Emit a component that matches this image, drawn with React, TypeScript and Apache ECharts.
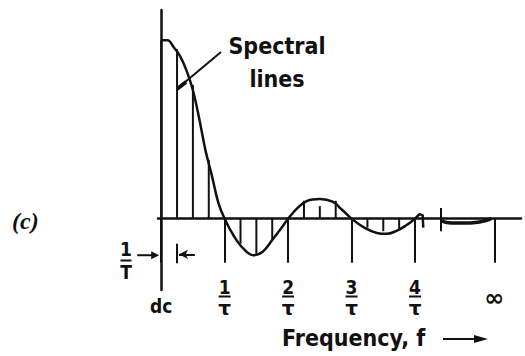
import React, { useEffect, useRef } from "react";
import * as echarts from "echarts";

// Continuous envelope (frequency in units of 1/τ, normalised amplitude)
const curveFreq = [0, 0.1, 0.2, 0.3, 0.4, 0.5, 0.6, 0.7, 0.8, 0.9, 1.0, 1.15, 1.3, 1.45, 1.6, 1.75, 1.9, 2.0, 2.15, 2.3, 2.5, 2.7, 2.85, 3.0, 3.2, 3.4, 3.55, 3.7, 3.85, 4.0];
const curveAmp = [1.0, 1.0, 0.96, 0.91, 0.83, 0.72, 0.56, 0.38, 0.24, 0.09, 0, -0.1, -0.17, -0.205, -0.185, -0.12, -0.05, 0, 0.06, 0.1, 0.11, 0.095, 0.05, 0, -0.05, -0.08, -0.085, -0.07, -0.04, 0];

// Spectral lines (harmonics)
const lineFreq = [0, 0.25, 0.5, 0.75, 1.25, 1.5, 1.75, 2.25, 2.5, 2.75, 3.25, 3.5, 3.75];
const lineAmp = [1.0, 0.95, 0.75, 0.33, -0.14, -0.2, -0.12, 0.1, 0.07, 0.1, -0.05, -0.07, -0.06];

// Broken end of the envelope and compressed tail toward infinity
const hookFreq = [4.0, 4.07, 4.12, 4.13];
const hookAmp = [0, 0.025, 0.02, -0.05];
const tailFreq = [4.42, 4.5, 4.65, 4.8, 4.95, 5.1, 5.2];
const tailAmp = [-0.012, -0.022, -0.025, -0.025, -0.022, -0.012, 0];

// Axis ticks and labels
const tickFreq = [0, 1, 2, 3, 4, 5.25];
const tickLabels = ["dc", "1/τ", "2/τ", "3/τ", "4/τ", "∞"];

const INK = "#111";
const FONT = "'DejaVu Sans Condensed', 'DejaVu Sans', sans-serif";

export default function App() {
  const ref = useRef<HTMLDivElement>(null);

  useEffect(() => {
    const chart = echarts.init(ref.current!, null, { renderer: "svg" });

    const formatter = (v: number) => {
      const i = tickFreq.findIndex((t) => Math.abs(t - v) < 1e-6);
      const s = i >= 0 ? tickLabels[i] : "";
      if (s === "dc") return "{gap| }\n{dc|dc}";
      if (s === "∞") return "{gap2| }\n{inf|∞}";
      const [n, d] = s.split("/");
      return `{num|${n}}\n{bar| }\n{den|${d}}`;
    };

    const option: any = {
      animation: false,
      backgroundColor: "#fff",
      grid: { left: 158, top: 10, width: 363, height: 280, containLabel: false, outerBoundsMode: "none" },
      xAxis: {
        type: "value",
        min: -0.05,
        max: 5.67,
        axisLine: { onZero: true, lineStyle: { color: INK, width: 2.5 } },
        axisTick: {
          show: true,
          customValues: tickFreq,
          length: 44,
          inside: false,
          lineStyle: { color: INK, width: 2 },
        },
        axisLabel: {
          customValues: tickFreq,
          margin: -12,
          formatter,
          color: INK,
          fontFamily: FONT,
          hideOverlap: false,
          rich: {
            num: { fontSize: 19, fontWeight: "bold", lineHeight: 17, align: "center", fontFamily: FONT, color: INK },
            bar: { fontSize: 1, width: 12, height: 2, lineHeight: 3, backgroundColor: INK, align: "center" },
            den: { fontSize: 20, fontWeight: "bold", lineHeight: 20, align: "center", fontFamily: "DejaVu Sans", color: INK },
            gap: { fontSize: 10, lineHeight: 18 },
            gap2: { fontSize: 10, lineHeight: 10 },
            dc: { fontSize: 19, fontWeight: "bold", lineHeight: 20, align: "center", fontFamily: FONT, color: INK },
            inf: { fontSize: 24, fontWeight: "bold", lineHeight: 20, align: "center", fontFamily: "DejaVu Sans", color: INK },
          },
        },
        splitLine: { show: false },
      },
      yAxis: {
        type: "value",
        min: -0.4,
        max: 1.17,
        axisLine: { show: true, onZero: true, lineStyle: { color: INK, width: 2.5 } },
        axisTick: { show: false },
        axisLabel: { show: false },
        splitLine: { show: false },
      },
      series: [
        {
          name: "Spectral lines",
          type: "bar",
          barWidth: 2,
          itemStyle: { color: INK },
          data: lineFreq.map((f, i) => [f, lineAmp[i]]),
          markLine: {
            silent: true,
            symbol: ["none", "none"],
            label: { show: false },
            lineStyle: { color: INK, width: 2, type: "solid" },
            data: [
              [
                { coord: [0.53, -0.2], symbol: "none" },
                { coord: [0.28, -0.2], symbol: "arrow", symbolSize: [7, 9] },
              ],
              [{ coord: [0.25, -0.14] }, { coord: [0.25, -0.25] }],
              [{ coord: [4.4, 0.06] }, { coord: [4.4, -0.07] }],
            ],
          },
        },
        {
          name: "Envelope",
          type: "line",
          smooth: 0.4,
          showSymbol: false,
          lineStyle: { color: INK, width: 2.5 },
          data: curveFreq.map((f, i) => [f, curveAmp[i]]),
        },
        {
          name: "Break",
          type: "line",
          showSymbol: false,
          lineStyle: { color: INK, width: 2.5 },
          data: hookFreq.map((f, i) => [f, hookAmp[i]]),
        },
        {
          name: "Tail",
          type: "line",
          smooth: 0.5,
          showSymbol: false,
          lineStyle: { color: INK, width: 3.5 },
          data: tailFreq.map((f, i) => [f, tailAmp[i]]),
        },
      ],
      graphic: [
        {
          id: "c",
          type: "text",
          x: 12,
          y: 221,
          style: {
            text: "(c)",
            fill: INK,
            font: "italic bold 24px 'Liberation Serif', serif",
            verticalAlign: "middle",
          },
        },
        {
          id: "spec",
          type: "text",
          x: 277,
          y: 62,
          style: {
            text: "Spectral\nlines",
            fill: INK,
            font: `bold 23px ${FONT}`,
            lineHeight: 33,
            align: "center",
            verticalAlign: "middle",
          },
        },
        {
          id: "ptr",
          type: "line",
          shape: { x1: 221, y1: 52, x2: 178, y2: 88 },
          style: { stroke: INK, lineWidth: 2 },
        },
        {
          id: "ptrEnd",
          type: "line",
          shape: { x1: 177, y1: 89, x2: 186, y2: 82 },
          style: { stroke: INK, lineWidth: 4 },
        },
        {
          id: "oneT",
          type: "text",
          x: 126,
          y: 238,
          style: {
            text: "{n|1}\n{b| }\n{d|T}",
            align: "center",
            verticalAlign: "top",
            rich: {
              n: { fontSize: 19, fontWeight: "bold", lineHeight: 21, align: "center", fontFamily: FONT, fill: INK },
              b: { fontSize: 1, width: 11, height: 2, lineHeight: 3, backgroundColor: INK, align: "center" },
              d: { fontSize: 19, fontWeight: "bold", lineHeight: 20, align: "center", fontFamily: FONT, fill: INK },
            },
          },
        },
        {
          id: "freq",
          type: "text",
          x: 282,
          y: 338,
          style: {
            text: "Frequency, f",
            fill: INK,
            font: `bold 23px ${FONT}`,
            verticalAlign: "middle",
          },
        },
        {
          id: "fArrow",
          type: "line",
          shape: { x1: 443, y1: 339, x2: 478, y2: 339 },
          style: { stroke: INK, lineWidth: 2 },
        },
        {
          id: "fHead",
          type: "polygon",
          shape: { points: [[474, 335], [488, 339], [474, 343]] },
          style: { fill: INK },
        },
      ],
    };

    chart.setOption(option);

    // Left "1/T" arrow lies outside the plotting area: place it through the axes' scales
    const a = chart.convertToPixel({ gridIndex: 0 }, [0, -0.205]) as number[];
    if (a) {
      const tip = a[0] - 2;
      const y = a[1];
      chart.setOption({
        graphic: [
          {
            id: "leftArrow",
            type: "line",
            shape: { x1: tip - 22, y1: y, x2: tip - 6, y2: y },
            style: { stroke: INK, lineWidth: 2 },
          },
          {
            id: "leftHead",
            type: "polygon",
            shape: { points: [[tip - 8, y - 4], [tip, y], [tip - 8, y + 4]] },
            style: { fill: INK },
          },
        ],
      });
    }
    return () => chart.dispose();
  }, []);

  return (
    <div
      ref={ref}
      style={{ position: "fixed", left: 0, top: 0, width: 525, height: 356, background: "#fff" }}
    />
  );
}
